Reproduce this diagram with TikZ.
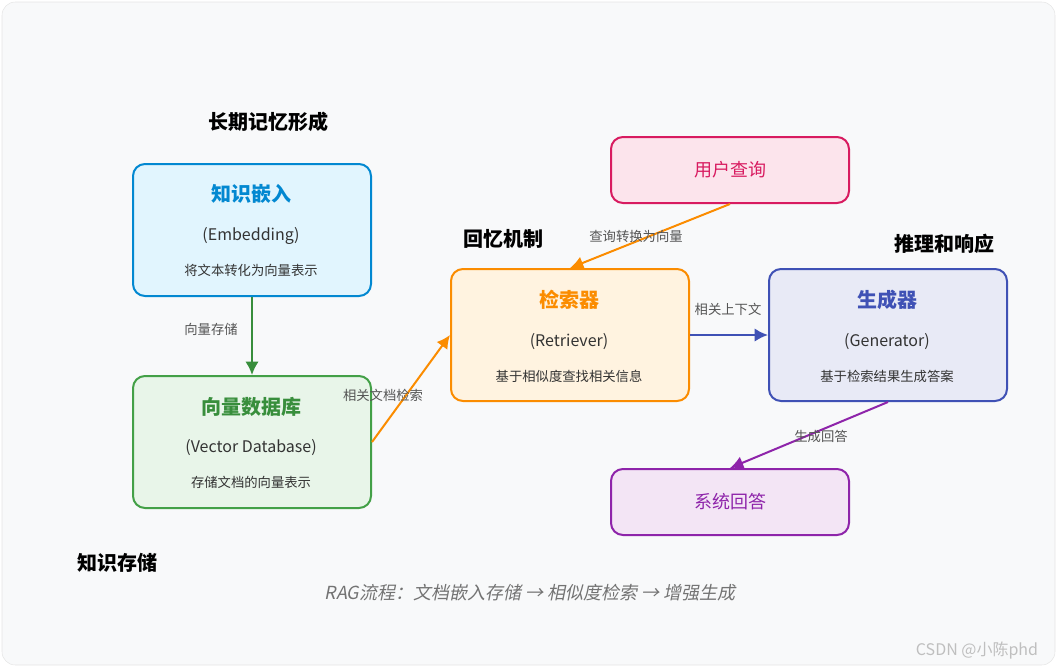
\documentclass[tikz,border=0pt]{standalone}
\usepackage{fontspec}
\setmainfont{Noto Sans CJK SC}
\newfontfamily\slnt{Noto Sans CJK SC}[FakeSlant=0.2]
\usetikzlibrary{arrows.meta}
\definecolor{bg}{HTML}{F8F9FA}
\definecolor{bl}{HTML}{0288D1}\definecolor{blf}{HTML}{E1F5FE}
\definecolor{gr}{HTML}{43A047}\definecolor{grf}{HTML}{E8F5E9}\definecolor{grd}{HTML}{388E3C}
\definecolor{or}{HTML}{FB8C00}\definecolor{orf}{HTML}{FFF3E0}
\definecolor{ind}{HTML}{3F51B5}\definecolor{indf}{HTML}{E8EAF6}
\definecolor{pk}{HTML}{D81B60}\definecolor{pkf}{HTML}{FCE4EC}
\definecolor{pu}{HTML}{8E24AA}\definecolor{puf}{HTML}{F3E5F5}
\definecolor{txt}{HTML}{333333}\definecolor{lab}{HTML}{555555}
\begin{document}
\begin{tikzpicture}[x=0.75pt,y=-0.75pt,
 box/.style={draw,line width=1.5pt,rounded corners=9pt,minimum width=178.5pt,minimum height=99pt,anchor=north west},
 sbox/.style={draw,line width=1.5pt,rounded corners=9pt,minimum width=178.5pt,minimum height=49.5pt,anchor=north west,font=\fontsize{13.5}{15}\selectfont},
 ttl/.style={font=\bfseries\fontsize{15}{17}\selectfont},
 sub/.style={font=\fontsize{12}{14}\selectfont,text=txt},
 dsc/.style={font=\fontsize{10}{12}\selectfont,text=txt},
 sec/.style={font=\bfseries\fontsize{15}{17}\selectfont},
 lbl/.style={font=\fontsize{10}{12}\selectfont,text=lab},
 arr/.style={line width=1.5pt,-{Latex[length=10pt,width=10pt]}}]
\useasboundingbox (0,0) rectangle (1057,668);
\fill[bg,draw=black!10,rounded corners=10pt] (2,2) rectangle (1055,665);
\node[box,draw=bl,fill=blf] (emb) at (132,163) {};
\node[ttl,text=bl] at (251,194) {知识嵌入};
\node[sub] at (251,236) {(Embedding)};
\node[dsc] at (251,270) {将文本转化为向量表示};
\node[box,draw=gr,fill=grf] (vdb) at (132,375) {};
\node[ttl,text=grd] at (251,407) {向量数据库};
\node[sub] at (251,448) {(Vector Database)};
\node[dsc] at (251,482) {存储文档的向量表示};
\node[box,draw=or,fill=orf] (ret) at (450,268) {};
\node[ttl,text=or] at (569,300) {检索器};
\node[sub] at (569,342) {(Retriever)};
\node[dsc] at (569,376) {基于相似度查找相关信息};
\node[box,draw=ind,fill=indf] (gen) at (768,268) {};
\node[ttl,text=ind] at (887,300) {生成器};
\node[sub] at (887,342) {(Generator)};
\node[dsc] at (887,376) {基于检索结果生成答案};
\node[sbox,draw=pk,fill=pkf,text=pk] (usr) at (610,136) {用户查询};
\node[sbox,draw=pu,fill=puf,text=pu] (ans) at (610,468) {系统回答};
\node[sec] (s1) at (268,122) {长期记忆形成};
\node[sec] (s2) at (503,239) {回忆机制};
\node[sec] (s3) at (944,244) {推理和响应};
\node[sec] (s4) at (117,563) {知识存储};
\draw[arr,draw=grd] (emb.south) -- (vdb.north);
\node[lbl] (l1) at (211,329) {向量存储};
\draw[arr,draw=or] (vdb.east) -- (ret.west);
\node[lbl] (l2) at (383,395) {相关文档检索};
\draw[arr,draw=or] (usr.south) -- (ret.north);
\node[lbl] (l3) at (636,236) {查询转换为向量};
\draw[arr,draw=ind] (ret.east) -- (gen.west);
\node[lbl] (l4) at (728,309) {相关上下文};
\draw[arr,draw=pu] (gen.south) -- (ans.north);
\node[lbl] (l5) at (821,436) {生成回答};
\node[font=\slnt\fontsize{13.5}{15}\selectfont,text=black!55] (ft) at (530,593) {RAG流程：文档嵌入存储 → 相似度检索 → 增强生成};
\node[font=\fontsize{12}{14}\selectfont,text=black!25] (wm) at (977,651) {CSDN @小陈phd};
\end{tikzpicture}
\end{document}
